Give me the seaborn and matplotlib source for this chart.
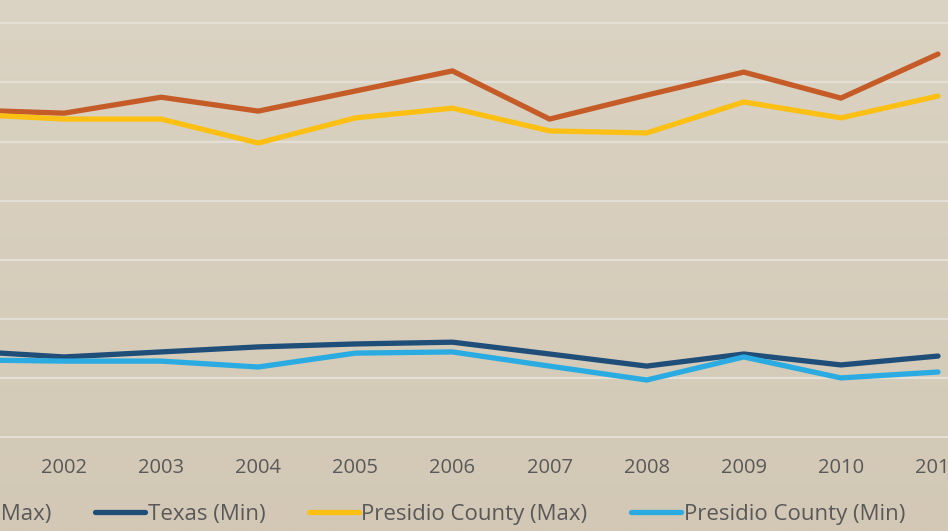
import matplotlib
matplotlib.use("Agg")
import matplotlib.pyplot as plt
import seaborn as sns
import pandas as pd
import numpy as np

# data
years = [2001, 2002, 2003, 2004, 2005, 2006, 2007, 2008, 2009, 2010, 2011]
texas_max = [110.7, 109.6, 115.0, 110.3, 117.1, 123.9, 107.6, 115.7, 123.5, 114.7, 129.6]
texas_min = [29.1, 27.1, 28.8, 30.5, 31.5, 32.1, 28.1, 24.0, 28.1, 24.4, 27.4]
presidio_max = [109.3, 107.6, 107.6, 99.5, 108.0, 111.3, 103.6, 102.9, 113.4, 108.0, 115.4]
presidio_min = [26.1, 25.7, 25.7, 23.7, 28.4, 28.8, 24.0, 19.3, 27.1, 20.0, 22.0]

series = ["Texas (Max)", "Texas (Min)", "Presidio County (Max)", "Presidio County (Min)"]
colors = ["#c55c28", "#1f4e79", "#fcc014", "#2aabe2"]

df = pd.DataFrame({
    "year": years * 4,
    "temp": texas_max + texas_min + presidio_max + presidio_min,
    "series": [s for s in series for _ in years],
})

sns.set_style("white")
plt.rcParams["font.family"] = ["Open Sans", "DejaVu Sans"]

fig = plt.figure(figsize=(9.48, 5.31), dpi=100)

# soft beige gradient behind everything
bg = fig.add_axes([0, 0, 1, 1], zorder=-1)
grad = np.linspace(0, 1, 256).reshape(-1, 1)
cmap = matplotlib.colors.LinearSegmentedColormap.from_list("bg", ["#dbd3c3", "#d2c8b5"])
bg.imshow(grad, aspect="auto", cmap=cmap, extent=[0, 1, 0, 1])
bg.axis("off")

ax = fig.add_axes([0, 0.1714, 1, 0.8286])
ax.set_facecolor("none")

sns.lineplot(data=df, x="year", y="temp", hue="series", hue_order=series,
             palette=colors, linewidth=3.8, legend=False, ax=ax,
             solid_capstyle="round")

ax.set_xlim(2001.341, 2011.103)
ax.set_ylim(-1.0, 147.9)
ax.set_yticks(np.arange(0, 141, 20))
ax.set_xticks(years[1:])
ax.grid(axis="y", color="#e3ded6", linewidth=1.6)
ax.grid(axis="x", visible=False)
ax.set_axisbelow(True)
for sp in ax.spines.values():
    sp.set_visible(False)
ax.tick_params(axis="y", left=False, labelleft=False)
ax.tick_params(axis="x", length=0, pad=13, labelsize=14.5, labelcolor="#595959")
ax.set_xlabel("")
ax.set_ylabel("")

fig.legend(ax.lines[:4], series, loc="center right", bbox_to_anchor=(905 / 948, 0.031),
           ncol=4, frameon=False, fontsize=16, labelcolor="#595959",
           handlelength=2.25, handletextpad=0.12, columnspacing=1.95, borderpad=0,
           borderaxespad=0)

fig.savefig("out.png", dpi=100)
